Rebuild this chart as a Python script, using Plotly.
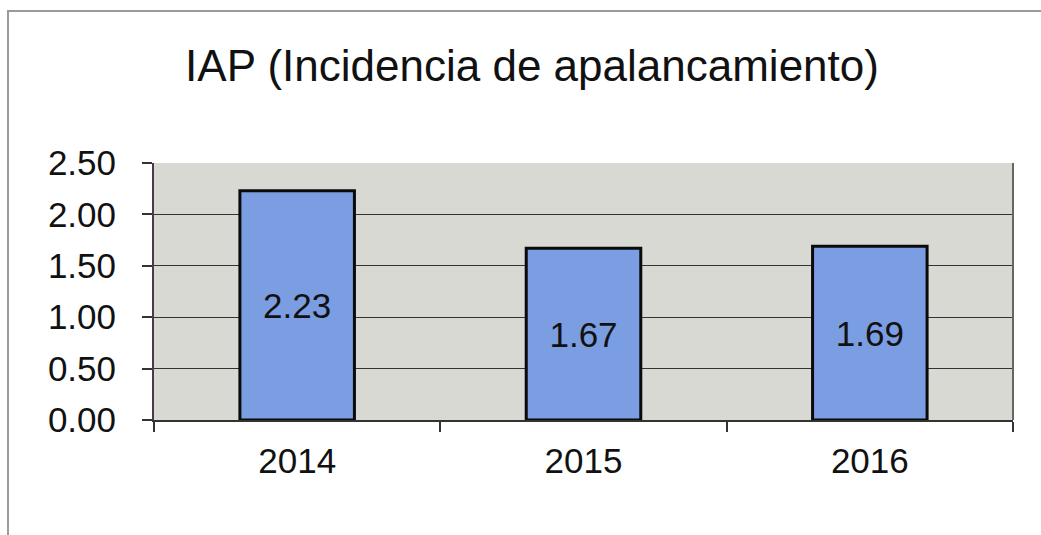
import plotly.graph_objects as go

years = ["2014", "2015", "2016"]
iap_values = [2.23, 1.67, 1.69]
chart_title = "IAP (Incidencia de apalancamiento)"

W, H = 1041, 535
L, R, T, B = 154, 1013, 163, 420
pw, ph = R - L, B - T


def px_x(x):
    return (x - L) / pw


def px_y(y):
    return (B - y) / ph


fig = go.Figure()
fig.add_trace(go.Bar(
    x=years,
    y=iap_values,
    width=0.4,
    marker=dict(color="#7b9de1", line=dict(color="#0a0a0a", width=3)),
    texttemplate="%{y:.2f}",
    textposition="inside",
    insidetextanchor="middle",
    textangle=0,
    textfont=dict(size=35, color="#111111", family="Liberation Sans, Arial, sans-serif"),
    hoverinfo="skip",
))

shapes = [
    # plot area right border
    dict(type="line", xref="paper", yref="paper", x0=1, x1=1, y0=0, y1=1,
         line=dict(color="#666666", width=2)),
    # outer chart frame (left and top)
    dict(type="path", xref="paper", yref="paper",
         path=f"M {px_x(8)} {px_y(560)} L {px_x(8)} {px_y(11)} L {px_x(1060)} {px_y(11)}",
         line=dict(color="#9a9a9a", width=2)),
]

fig.update_layout(
    width=W, height=H,
    margin=dict(l=L, r=W - R, t=T, b=H - B, pad=0),
    paper_bgcolor="#ffffff",
    plot_bgcolor="#d9d9d3",
    font=dict(family="Liberation Sans, Arial, sans-serif", color="#111111", size=35),
    title=dict(text=chart_title, x=532 / W, xanchor="center",
               y=1 - 66 / H, yanchor="middle", yref="container",
               font=dict(size=44, color="#111111")),
    showlegend=False,
    bargap=0.6,
    shapes=shapes,
    xaxis=dict(type="category", tickson="boundaries", ticks="outside", ticklen=10,
               tickcolor="#333333", tickwidth=2, showline=True, linecolor="#333333",
               linewidth=2, showgrid=False, tickfont=dict(size=35),
               ticklabelstandoff=9),
    yaxis=dict(range=[0, 2.5], dtick=0.5, tickformat=".2f", ticks="outside",
               ticklen=10, tickcolor="#333333", tickwidth=2, showline=True,
               linecolor="#4b3b47", linewidth=2, gridcolor="#333333", gridwidth=1.3,
               zeroline=False, tickfont=dict(size=35), ticklabelstandoff=19),
)

fig.write_html("out.html")
